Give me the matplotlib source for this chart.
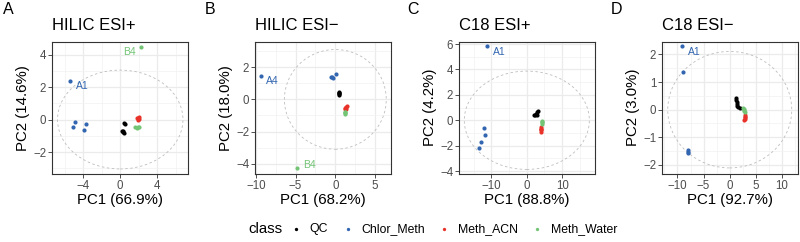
import matplotlib
matplotlib.use("Agg")
import matplotlib.pyplot as plt
from matplotlib.patches import Ellipse
import numpy as np

plt.rcParams['font.family'] = ['Liberation Sans', 'DejaVu Sans']

# ---------------- data ----------------
class_names = ["QC", "Chlor_Meth", "Meth_ACN", "Meth_Water"]
class_colors = ["#000000", "#3266B0", "#E8322A", "#74C476"]

panel_letters = ["A", "B", "C", "D"]
panel_titles = ["HILIC ESI+", "HILIC ESI\u2212", "C18 ESI+", "C18 ESI\u2212"]
pc1_var = [66.9, 68.2, 88.8, 92.7]
pc2_var = [14.6, 18.0, 4.2, 3.0]

# Panel A: HILIC ESI+
a_qc_x = [0.40, 0.50, 0.18, 0.30, 0.36, 0.25]
a_qc_y = [-0.20, -0.28, -0.68, -0.74, -0.80, -0.72]
a_cm_x = [-5.40, -4.93, -5.14, -3.70, -3.91]
a_cm_y = [2.38, -0.14, -0.47, -0.29, -0.64]
a_acn_x = [1.85, 2.00, 2.07, 1.90, 1.95]
a_acn_y = [0.12, 0.18, 0.05, 0.00, 0.08]
a_w_x = [2.25, 1.63, 1.80, 1.95, 2.07]
a_w_y = [4.48, -0.45, -0.50, -0.43, -0.47]

# Panel B: HILIC ESI-
b_qc_x = [0.40, 0.46, 0.52, 0.42, 0.50]
b_qc_y = [0.38, 0.45, 0.35, 0.30, 0.42]
b_cm_x = [-9.37, -0.50, -0.30, 0.04, -0.40]
b_cm_y = [1.48, 1.42, 1.36, 1.59, 1.38]
b_acn_x = [1.20, 1.30, 1.45, 1.35, 1.25]
b_acn_y = [-0.55, -0.45, -0.40, -0.60, -0.62]
b_w_x = [-4.80, 1.20, 1.22, 1.18, 1.25]
b_w_y = [-4.25, -0.80, -0.87, -0.92, -0.78]

# Panel C: C18 ESI+
c_qc_x = [2.1, 2.5, 2.8, 3.1, 2.3, 2.9]
c_qc_y = [0.45, 0.50, 0.62, 0.70, 0.38, 0.40]
c_cm_x = [-11.2, -12.1, -11.85, -12.9, -13.5]
c_cm_y = [5.85, -0.58, -1.17, -1.73, -2.15]
c_acn_x = [4.0, 3.9, 4.1, 4.0, 3.95]
c_acn_y = [-0.50, -0.65, -0.80, -0.90, -0.70]
c_w_x = [4.3, 4.4, 4.2, 4.35]
c_w_y = [-0.03, -0.15, -0.30, -0.10]

# Panel D: C18 ESI-
d_qc_x = [1.20, 1.25, 1.30, 1.35, 1.45, 1.55, 2.00]
d_qc_y = [0.42, 0.35, 0.28, 0.20, 0.14, 0.10, 0.05]
d_cm_x = [-9.14, -8.90, -8.05, -7.95, -7.90]
d_cm_y = [2.30, 1.36, -1.45, -1.52, -1.58]
d_acn_x = [2.85, 2.90, 2.88, 2.80, 2.95]
d_acn_y = [-0.18, -0.25, -0.32, -0.36, -0.28]
d_w_x = [2.50, 2.65, 2.75, 2.85, 2.70]
d_w_y = [0.06, 0.02, -0.04, -0.10, 0.00]

# Hotelling ellipse radii (PC1, PC2)
ellipse_rx = [6.80, 6.40, 17.7, 11.85]
ellipse_ry = [3.04, 3.10, 3.87, 2.11]

# labelled samples: (panel, class index, point index, label, side)
labels_a = [(1, 0, "A1", "right"), (3, 0, "B4", "left")]
labels_b = [(1, 0, "A4", "right"), (3, 0, "B4", "right_up")]
labels_c = [(1, 0, "A1", "right")]
labels_d = [(1, 0, "A1", "right")]

# axis limits and breaks
xlims = [(-7.4, 7.35), (-10.1, 7.0), (-19.2, 19.3), (-12.95, 13.05)]
ylims = [(-3.35, 4.8), (-4.64, 3.6), (-4.23, 6.2), (-2.33, 2.47)]
xbreaks = [[-4, 0, 4], [-10, -5, 0, 5], [-10, 0, 10], [-10, -5, 0, 5, 10]]
ybreaks = [[-2, 0, 2, 4], [-4, -2, 0, 2], [-4, -2, 0, 2, 4, 6], [-2, -1, 0, 1, 2]]

panels = [
    ([a_qc_x, a_cm_x, a_acn_x, a_w_x], [a_qc_y, a_cm_y, a_acn_y, a_w_y], labels_a),
    ([b_qc_x, b_cm_x, b_acn_x, b_w_x], [b_qc_y, b_cm_y, b_acn_y, b_w_y], labels_b),
    ([c_qc_x, c_cm_x, c_acn_x, c_w_x], [c_qc_y, c_cm_y, c_acn_y, c_w_y], labels_c),
    ([d_qc_x, d_cm_x, d_acn_x, d_w_x], [d_qc_y, d_cm_y, d_acn_y, d_w_y], labels_d),
]

# ---------------- layout ----------------
W, H = 800, 242
fig = plt.figure(figsize=(W / 100, H / 100), dpi=100)

panel_left_px = [52, 255, 459, 662]
panel_w_px = 136
panel_top_px = 41.5
panel_bot_px = 174
letter_x_px = [3, 205, 407, 611]

def minor_breaks(br, lim):
    step = br[1] - br[0]
    cands = np.arange(br[0] - step / 2, br[-1] + step, step)
    return [c for c in cands if lim[0] <= c <= lim[1]]

handles = None
for i, (xs, ys, labs) in enumerate(panels):
    ax = fig.add_axes([panel_left_px[i] / W, 1 - panel_bot_px / H,
                       panel_w_px / W, (panel_bot_px - panel_top_px) / H])
    ax.set_xlim(*xlims[i])
    ax.set_ylim(*ylims[i])
    ax.set_xticks(xbreaks[i])
    ax.set_yticks(ybreaks[i])
    ax.set_xticks(minor_breaks(xbreaks[i], xlims[i]), minor=True)
    ax.set_yticks(minor_breaks(ybreaks[i], ylims[i]), minor=True)
    ax.grid(True, which='major', color='#EBEBEB', lw=0.9, zorder=0)
    ax.grid(True, which='minor', color='#F2F2F2', lw=0.5, zorder=0)
    ax.set_axisbelow(True)
    ax.tick_params(which='major', length=2.6, width=0.6, color='#333333',
                   labelsize=8.3, labelcolor='#4D4D4D', pad=1.5)
    ax.tick_params(which='minor', length=0)
    for s in ax.spines.values():
        s.set_color('#333333')
        s.set_linewidth(0.8)

    ax.add_patch(Ellipse((0, 0), 2 * ellipse_rx[i], 2 * ellipse_ry[i], fill=False,
                         ls=(0, (3, 3)), lw=0.6, ec='#BDBDBD', zorder=1))

    hs = []
    for k in range(4):
        h = ax.scatter(xs[k], ys[k], s=9, color=class_colors[k], lw=0,
                       zorder=3, label=class_names[k])
        hs.append(h)
    handles = hs

    for (k, j, txt, side) in labs:
        px, py = xs[k][j], ys[k][j]
        if side == "right":
            off, ha, va = (4, -4), 'left', 'center'
        elif side == "left":
            off, ha, va = (-4, -4), 'right', 'center'
        else:
            off, ha, va = (4, 2), 'left', 'center'
        ax.annotate(txt, (px, py), xytext=off, textcoords='offset points',
                    ha=ha, va=va, fontsize=7.5, color=class_colors[k])

    ax.set_xlabel(f"PC1 ({pc1_var[i]:.1f}%)", fontsize=10.8, labelpad=1)
    ax.set_ylabel(f"PC2 ({pc2_var[i]:.1f}%)", fontsize=10.8, labelpad=2)
    ax.set_title(panel_titles[i], loc='left', fontsize=12, pad=8.5)

    fig.text(letter_x_px[i] / W, 1 - 13.5 / H, panel_letters[i], fontsize=11.5,
             va='baseline', ha='left')

# legend
fig.text(248 / W, 1 - 229 / H, "class", fontsize=10.8, va='center', ha='left')
leg = fig.legend(handles, class_names, ncol=4, loc='center left',
                 bbox_to_anchor=(290 / W, 1 - 229 / H), frameon=False,
                 fontsize=8.8, handlelength=1.0, handletextpad=0.6,
                 columnspacing=1.1, markerscale=0.8, borderaxespad=0, borderpad=0)

fig.savefig("out.png", dpi=100)
